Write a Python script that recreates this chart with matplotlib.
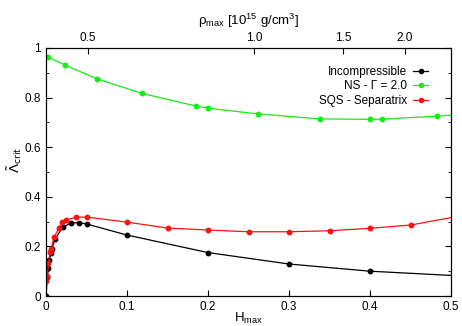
import matplotlib
matplotlib.use('Agg')
import matplotlib.pyplot as plt
import numpy as np
from matplotlib.ticker import MultipleLocator, FuncFormatter

plt.rcParams['font.family'] = ['Liberation Sans', 'DejaVu Sans']
plt.rcParams['mathtext.fontset'] = 'custom'
plt.rcParams['mathtext.rm'] = 'Liberation Sans'
plt.rcParams['mathtext.it'] = 'Liberation Sans:italic'

# Incompressible
h_inc = [0.0, 0.0016, 0.003, 0.004, 0.006, 0.0074, 0.011, 0.0206, 0.0305, 0.0407, 0.0506,
         0.0996, 0.2, 0.3, 0.4]
l_inc = [0.0, 0.078, 0.112, 0.145, 0.172, 0.19, 0.229, 0.277, 0.294, 0.296, 0.290,
         0.246, 0.175, 0.129, 0.100]
h_inc_end = 0.5
l_inc_end = 0.083

# NS - Gamma = 2.0
h_ns = [0.0025, 0.0235, 0.0626, 0.118, 0.185, 0.2, 0.262, 0.338, 0.4, 0.415, 0.483]
l_ns = [0.963, 0.931, 0.876, 0.817, 0.766, 0.757, 0.734, 0.714, 0.712, 0.713, 0.725]
h_ns_end = 0.5
l_ns_end = 0.729

# SQS - Separatrix
h_sqs = [0.0, 0.0016, 0.003, 0.005, 0.006, 0.010, 0.0156, 0.020, 0.0247, 0.0375, 0.0506,
         0.0996, 0.15, 0.2, 0.25, 0.3, 0.35, 0.4, 0.45]
l_sqs = [0.060, 0.081, 0.132, 0.179, 0.188, 0.237, 0.273, 0.297, 0.306, 0.318, 0.318,
         0.298, 0.274, 0.266, 0.259, 0.259, 0.263, 0.273, 0.286]
h_sqs_end = 0.5
l_sqs_end = 0.316

# top axis: rho_max ticks and where they sit in H_max
rho_labels = ['0.5', '1.0', '1.5', '2.0']
rho_at_h = [0.052, 0.257, 0.367, 0.443]

fig = plt.figure(figsize=(4.62, 3.26), dpi=100)
ax = fig.add_axes([0.0996, 0.092, 0.8766, 0.761])

series = [
    (h_inc, l_inc, h_inc_end, l_inc_end, 'black', 'Incompressible'),
    (h_ns, l_ns, h_ns_end, l_ns_end, '#11ee11', 'NS - \u0393 = 2.0'),
    (h_sqs, l_sqs, h_sqs_end, l_sqs_end, '#ff1111', 'SQS - Separatrix'),
]
for hs, ls, he, le, col, lab in series:
    ax.plot(hs + [he], ls + [le], '-', color=col, lw=0.9)
    ax.plot(hs, ls, 'o', color=col, ms=3.2, ls='none')
    ax.plot([], [], '-o', color=col, ms=3.0, lw=0.9, label=lab)

ax.set_xlim(0, 0.5)
ax.set_ylim(0, 1)
ax.xaxis.set_major_locator(MultipleLocator(0.1))
ax.yaxis.set_major_locator(MultipleLocator(0.2))
ax.yaxis.set_minor_locator(MultipleLocator(0.1))
fmt = FuncFormatter(lambda v, p: ('%g' % round(v, 3)))
ax.xaxis.set_major_formatter(fmt)
ax.yaxis.set_major_formatter(fmt)
ax.tick_params(which='both', direction='in', labelsize=8.5, right=True, top=False)
ax.tick_params(which='major', length=4)
ax.tick_params(which='minor', length=2.5)

ax.set_xlabel('H$_{\\rm max}$', fontsize=9.5)
ax.xaxis.set_label_coords(0.5, -0.06)
ax.set_ylabel(r'$\tilde{\Lambda}_{\mathrm{crit}}$', fontsize=9.5,
              math_fontfamily='dejavusans')
ax.yaxis.set_label_coords(-0.055, 0.55)

ax2 = ax.twiny()
ax2.set_xlim(0, 0.5)
ax2.set_xticks(rho_at_h)
ax2.set_xticklabels(rho_labels)
ax2.tick_params(direction='in', labelsize=8.5, length=4, pad=3)
ax2.set_xlabel('\u03c1$_{\\rm max}$ [10$^{15}$ g/cm$^3$]', fontsize=9.5, labelpad=5)

leg = ax.legend(loc='upper right', frameon=False, markerfirst=False, fontsize=8.5,
                handlelength=1.3, handletextpad=0.5, labelspacing=0.2,
                bbox_to_anchor=(0.97, 0.97))

fig.savefig('out.png', dpi=100)
